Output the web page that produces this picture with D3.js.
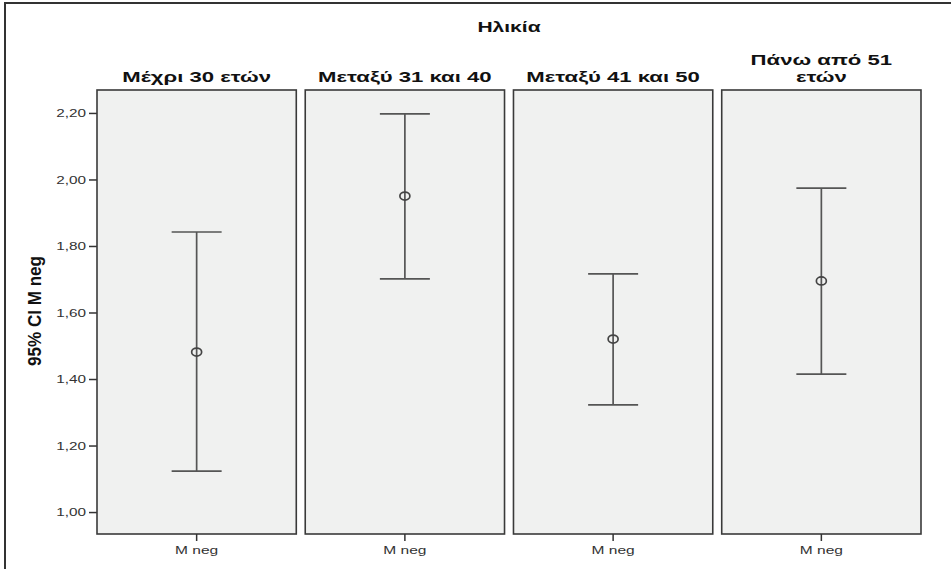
<!DOCTYPE html>
<html>
<head>
<meta charset="utf-8">
<script src="https://cdn.jsdelivr.net/npm/d3@7"></script>
<style>
  body { margin: 0; background: #fff; }
  text { font-family: "Liberation Sans", Arial, sans-serif; }
</style>
</head>
<body>
<div id="chart"></div>
<script>
const categories = ["Μέχρι 30 ετών", "Μεταξύ 31 και 40", "Μεταξύ 41 και 50", "Πάνω από 51 ετών"];
const means = [1.481, 1.950, 1.520, 1.695];
const lower = [1.123, 1.701, 1.322, 1.415];
const upper = [1.842, 2.197, 1.716, 1.974];
const yTicks = [1.0, 1.2, 1.4, 1.6, 1.8, 2.0, 2.2];
const variableName = "M neg";

const width = 951, height = 569;
const plot = { left: 97, right: 921, top: 90, bottom: 534 };

// the original export is stretched sideways, so widen horizontal text
function stretch(sel, k) {
  sel.each(function () {
    const w = this.getComputedTextLength();
    d3.select(this)
      .attr("textLength", w * k)
      .attr("lengthAdjust", "spacingAndGlyphs");
  });
}

const svg = d3.select("#chart")
  .append("svg")
  .attr("width", width)
  .attr("height", height);

// outer frame (runs off the right/bottom of the picture)
svg.append("rect")
  .attr("x", 5).attr("y", 3)
  .attr("width", 980).attr("height", 600)
  .attr("fill", "none")
  .attr("stroke", "#333")
  .attr("stroke-width", 2);

const xScale = d3.scaleBand()
  .domain(categories)
  .range([plot.left, plot.right])
  .paddingInner(0.043);

const yScale = d3.scaleLinear()
  .domain([0.934, 2.269])
  .range([plot.bottom, plot.top]);

// title
svg.append("text")
  .attr("x", (plot.left + plot.right) / 2)
  .attr("y", 32)
  .attr("text-anchor", "middle")
  .style("font-weight", "bold")
  .style("font-size", "14.5px")
  .attr("fill", "#111")
  .text("Ηλικία")
  .call(stretch, 1.45);

// y axis
const yAxis = d3.axisLeft(yScale)
  .tickValues(yTicks)
  .tickSize(8)
  .tickPadding(3)
  .tickFormat(d => d3.format(".2f")(d).replace(".", ","));

const yG = svg.append("g")
  .attr("transform", `translate(${plot.left},0)`)
  .call(yAxis);
yG.select(".domain").remove();
yG.selectAll(".tick line").attr("stroke", "#333").attr("stroke-width", 1.5);
yG.selectAll(".tick text")
  .attr("fill", "#333")
  .style("font-size", "11.5px")
  .style("font-family", "'Liberation Sans', Arial, sans-serif")
  .call(stretch, 1.33);

svg.append("text")
  .attr("transform", "translate(41,311) rotate(-90) scale(1.22,1.3)")
  .attr("text-anchor", "middle")
  .style("font-weight", "bold")
  .style("font-size", "14px")
  .attr("fill", "#111")
  .text("95% CI M neg");

// panels
const panels = svg.selectAll(".panel")
  .data(categories)
  .enter().append("g")
  .attr("class", "panel");

panels.append("rect")
  .attr("x", d => xScale(d))
  .attr("y", plot.top)
  .attr("width", xScale.bandwidth())
  .attr("height", plot.bottom - plot.top)
  .attr("fill", "#f0f1f0")
  .attr("stroke", "#3a3a3a")
  .attr("stroke-width", 1.6);

// strip labels (wrap the last one like the original)
panels.each(function (d) {
  const g = d3.select(this);
  const cx = xScale(d) + xScale.bandwidth() / 2;
  const lines = d === "Πάνω από 51 ετών" ? ["Πάνω από 51", "ετών"] : [d];
  lines.forEach((ln, i) => {
    g.append("text")
      .attr("x", cx)
      .attr("y", 82 - (lines.length - 1 - i) * 17)
      .attr("text-anchor", "middle")
      .style("font-weight", "bold")
      .style("font-size", "14px")
      .attr("fill", "#111")
      .text(ln)
      .call(stretch, 1.58);
  });

  // x tick + label
  g.append("line")
    .attr("x1", cx).attr("x2", cx)
    .attr("y1", plot.bottom).attr("y2", plot.bottom + 7)
    .attr("stroke", "#333")
    .attr("stroke-width", 1.5);
  g.append("text")
    .attr("x", cx)
    .attr("y", 554)
    .attr("text-anchor", "middle")
    .style("font-size", "11.5px")
    .attr("fill", "#333")
    .text(variableName)
    .call(stretch, 1.35);
});

// error bars
const capHalf = 25;
const bars = svg.selectAll(".errbar")
  .data(categories.map((c, i) => ({ c, m: means[i], lo: lower[i], hi: upper[i] })))
  .enter().append("g")
  .attr("class", "errbar")
  .attr("stroke", "#555")
  .attr("stroke-width", 1.7)
  .attr("fill", "none");

const cxOf = d => xScale(d.c) + xScale.bandwidth() / 2;

bars.append("line")
  .attr("x1", cxOf).attr("x2", cxOf)
  .attr("y1", d => yScale(d.hi))
  .attr("y2", d => yScale(d.lo));

bars.append("line")
  .attr("x1", d => cxOf(d) - capHalf).attr("x2", d => cxOf(d) + capHalf)
  .attr("y1", d => yScale(d.hi)).attr("y2", d => yScale(d.hi));

bars.append("line")
  .attr("x1", d => cxOf(d) - capHalf).attr("x2", d => cxOf(d) + capHalf)
  .attr("y1", d => yScale(d.lo)).attr("y2", d => yScale(d.lo));

bars.append("ellipse")
  .attr("cx", cxOf)
  .attr("cy", d => yScale(d.m))
  .attr("rx", 5)
  .attr("ry", 4)
  .attr("fill", "none")
  .attr("stroke", "#444");
</script>
</body>
</html>
